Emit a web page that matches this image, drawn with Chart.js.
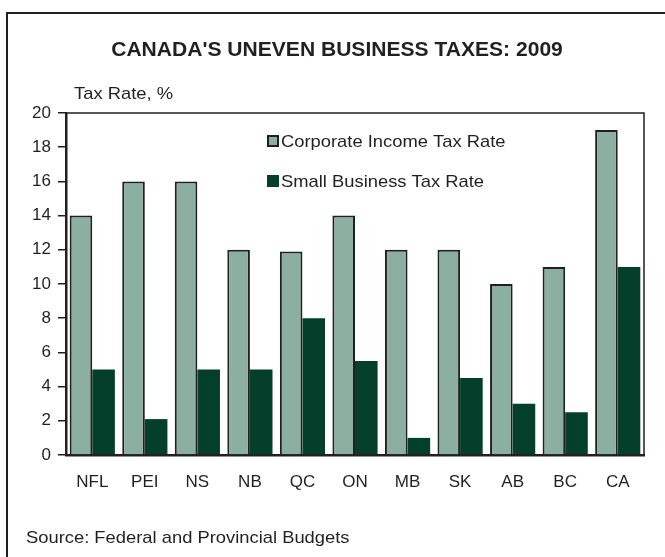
<!DOCTYPE html>
<html>
<head>
<meta charset="utf-8">
<title>Canada's Uneven Business Taxes: 2009</title>
<script src="https://cdn.jsdelivr.net/npm/chart.js@4.4.1/dist/chart.umd.min.js"></script>
<style>
	html, body { margin: 0; padding: 0; background: #fff; }
	#wrap { width: 665px; height: 557px; position: relative; }
</style>
</head>
<body>
<div id="wrap"><canvas id="taxChart" width="665" height="557"></canvas></div>
<script>
const provinces = ['NFL', 'PEI', 'NS', 'NB', 'QC', 'ON', 'MB', 'SK', 'AB', 'BC', 'CA'];
const corporateRate = [14, 16, 16, 12, 11.9, 14, 12, 12, 10, 11, 19];
const smallBusinessRate = [5, 2.1, 5, 5, 8, 5.5, 1, 4.5, 3, 2.5, 11];
const seriesLabels = ['Corporate Income Tax Rate', 'Small Business Tax Rate'];

const chartTitle = "CANADA'S UNEVEN BUSINESS TAXES: 2009";
const yUnit = 'Tax Rate, %';
const sourceNote = 'Source: Federal and Provincial Budgets';

const ink = '#231f20';
const lightGreen = '#8bafa1';
const darkGreen = '#043f2b';
const fontFamily = 'Arial, "Liberation Sans", Helvetica, sans-serif';

// text in this chart is slightly wide, so stretch it a touch
function wideText(ctx, text, x, y, font, align) {
	ctx.save();
	ctx.font = font;
	ctx.fillStyle = ink;
	ctx.textAlign = align || 'left';
	ctx.textBaseline = 'alphabetic';
	ctx.translate(x, y);
	ctx.scale(1.08, 1);
	ctx.fillText(text, 0, 0);
	ctx.restore();
}

const decorations = {
	id: 'decorations',
	afterDraw(chart) {
		const ctx = chart.ctx;
		const area = chart.chartArea;

		// outer frame (left and top edges are in view)
		ctx.save();
		ctx.strokeStyle = ink;
		ctx.lineWidth = 2;
		ctx.beginPath();
		ctx.moveTo(7, 560);
		ctx.lineTo(7, 13);
		ctx.lineTo(668, 13);
		ctx.stroke();

		// top and right edges of the plot box
		ctx.lineWidth = 1.5;
		ctx.beginPath();
		ctx.moveTo(area.left, area.top);
		ctx.lineTo(area.right, area.top);
		ctx.lineTo(area.right, area.bottom);
		ctx.stroke();
		ctx.restore();

		wideText(ctx, chartTitle, 337, 56, 'bold 19.5px ' + fontFamily, 'center');
		wideText(ctx, yUnit, 74, 99, '17px ' + fontFamily, 'left');
		wideText(ctx, sourceNote, 26, 543, '17px ' + fontFamily, 'left');

		// legend inside the plot
		chart.data.datasets.forEach(function (ds, i) {
			const y = 135 + i * 40;
			ctx.save();
			ctx.fillStyle = ds.borderWidth ? ds.borderColor : ds.backgroundColor;
			ctx.fillRect(267, y, 12, 12);
			if (ds.borderWidth) {
				ctx.fillStyle = ds.backgroundColor;
				ctx.fillRect(269, y + 2, 8, 8);
			}
			ctx.restore();
			wideText(ctx, ds.label, 281, y + 12, '17px ' + fontFamily, 'left');
		});
	}
};

new Chart(document.getElementById('taxChart'), {
	type: 'bar',
	data: {
		labels: provinces,
		datasets: [
			{
				label: seriesLabels[0],
				data: corporateRate,
				backgroundColor: lightGreen,
				borderColor: ink,
				borderWidth: 2,
			},
			{
				label: seriesLabels[1],
				data: smallBusinessRate,
				backgroundColor: darkGreen,
				borderWidth: 0,
			},
		]
	},
	options: {
		responsive: false,
		animation: false,
		devicePixelRatio: 1,
		layout: {
			padding: { top: 113, right: 21, bottom: 62, left: 10 }
		},
		datasets: {
			bar: {
				barPercentage: 1,
				categoryPercentage: 0.86
			}
		},
		plugins: {
			legend: { display: false },
			title: { display: false },
			tooltip: { enabled: false }
		},
		scales: {
			x: {
				grid: { display: false, drawTicks: false },
				border: { display: true, color: ink, width: 2.5 },
				ticks: {
					color: ink,
					padding: 17,
					font: { family: fontFamily, size: 17 }
				},
				afterFit(scale) { scale.height = 40; }
			},
			y: {
				min: 0,
				max: 20,
				grid: {
					drawOnChartArea: false,
					tickLength: 8,
					color: ink,
					lineWidth: 1.5
				},
				border: { display: true, color: ink, width: 2.5 },
				ticks: {
					stepSize: 2,
					color: ink,
					padding: 7,
					font: { family: fontFamily, size: 17 }
				},
				afterFit(scale) { scale.width = 56; }
			}
		}
	},
	plugins: [decorations]
});
</script>
</body>
</html>
